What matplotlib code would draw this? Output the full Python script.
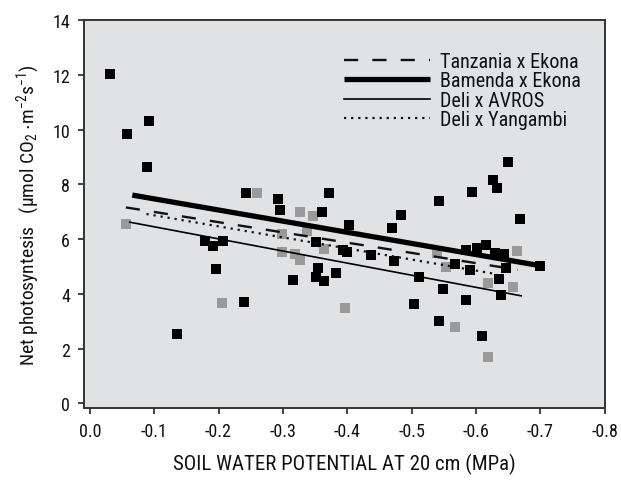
import matplotlib
matplotlib.use("Agg")
import matplotlib.pyplot as plt

FONT = 'Roboto Condensed'
plt.rcParams['font.family'] = [FONT, 'DejaVu Sans']
plt.rcParams['mathtext.fontset'] = 'custom'
plt.rcParams['mathtext.rm'] = FONT
plt.rcParams['mathtext.it'] = FONT
plt.rcParams['mathtext.default'] = 'regular'

# Soil water potential (MPa) and net photosynthesis values
black_x = [-0.032, -0.058, -0.092, -0.089, -0.136, -0.179, -0.192, -0.207, -0.196, -0.240,
           -0.242, -0.292, -0.296, -0.372, -0.360, -0.402, -0.351, -0.316, -0.355, -0.351,
           -0.364, -0.383, -0.393, -0.399, -0.437, -0.649, -0.627, -0.633, -0.593, -0.542,
           -0.483, -0.469, -0.668, -0.700, -0.584, -0.601, -0.616, -0.629, -0.643, -0.473,
           -0.568, -0.590, -0.646, -0.635, -0.512, -0.549, -0.638, -0.585, -0.503, -0.542,
           -0.609]
black_y = [12.04, 9.84, 10.32, 8.64, 2.53, 5.94, 5.76, 5.94, 4.91, 3.71,
           7.69, 7.47, 7.08, 7.69, 6.98, 6.52, 5.88, 4.52, 4.95, 4.63,
           4.48, 4.77, 5.61, 5.54, 5.42, 8.81, 8.17, 7.88, 7.73, 7.40,
           6.89, 6.42, 6.75, 5.03, 5.61, 5.67, 5.80, 5.49, 5.46, 5.21,
           5.08, 4.88, 4.96, 4.55, 4.63, 4.19, 3.97, 3.79, 3.64, 3.02,
           2.47]
gray_x = [-0.056, -0.206, -0.259, -0.327, -0.346, -0.338, -0.298, -0.298, -0.318, -0.327,
          -0.363, -0.396, -0.540, -0.553, -0.663, -0.618, -0.657, -0.568, -0.618]
gray_y = [6.55, 3.67, 7.69, 7.00, 6.86, 6.29, 6.20, 5.54, 5.47, 5.25,
          5.64, 3.48, 5.50, 4.99, 5.58, 4.41, 4.26, 2.80, 1.70]

# Regression lines (start/end x and y)
line_names = ['Tanzania x Ekona', 'Bamenda x Ekona', 'Deli x AVROS', 'Deli x Yangambi']
line_x0 = [-0.056, -0.066, -0.062, -0.088]
line_x1 = [-0.665, -0.695, -0.670, -0.630]
line_y0 = [7.16, 7.61, 6.62, 6.92]
line_y1 = [4.88, 5.05, 3.93, 4.73]

x_ticks = [0.0, -0.1, -0.2, -0.3, -0.4, -0.5, -0.6, -0.7, -0.8]
y_ticks = [0, 2, 4, 6, 8, 10, 12, 14]

fig = plt.figure(figsize=(6.21, 4.81), dpi=100)
ax = fig.add_axes([0.135, 0.149, 0.839, 0.807])
ax.set_facecolor('#e1e2e4')

styles = [dict(color='#111111', lw=1.7, dashes=(6.0, 6.0)),
          dict(color='#000000', lw=3.8, solid_capstyle='butt'),
          dict(color='#000000', lw=1.2),
          dict(color='#111111', lw=1.6, dashes=(1.0, 2.2))]
for i, name in enumerate(line_names):
    ax.plot([line_x0[i], line_x1[i]], [line_y0[i], line_y1[i]], label=name, zorder=3, **styles[i])

ax.scatter(gray_x, gray_y, marker='s', s=44, color='#9a9a9a', linewidths=0, zorder=2)
ax.scatter(black_x, black_y, marker='s', s=44, color='#000000', linewidths=0, zorder=2)

ax.set_xlim(0.0093, -0.8)
ax.set_ylim(-0.18, 14)
ax.set_xticks(x_ticks)
ax.set_xticklabels([f'{v:.1f}' for v in x_ticks])
ax.set_yticks(y_ticks)
ax.tick_params(direction='out', length=4, width=1.3, color='#333333', labelsize=13, pad=6, labelcolor='#111111')
for sp in ax.spines.values():
    sp.set_linewidth(1.4)
    sp.set_color('#333333')

ax.set_xlabel('SOIL WATER POTENTIAL AT 20 cm (MPa)', fontsize=15, labelpad=9, color='#111111')
ax.set_ylabel(r'Net photosyntesis   (µmol CO$_{2}$ $\cdot$m$^{-2}$s$^{-1}$)', fontsize=14, labelpad=7, color='#111111')

leg = ax.legend(loc='upper left', bbox_to_anchor=(0.468, 0.96), frameon=False, fontsize=14.5,
                handlelength=4.3, handletextpad=0.5, labelspacing=0.02, borderpad=0.3)
for t in leg.get_texts():
    t.set_color('#111111')

fig.savefig('out.png', dpi=100, facecolor='white')
